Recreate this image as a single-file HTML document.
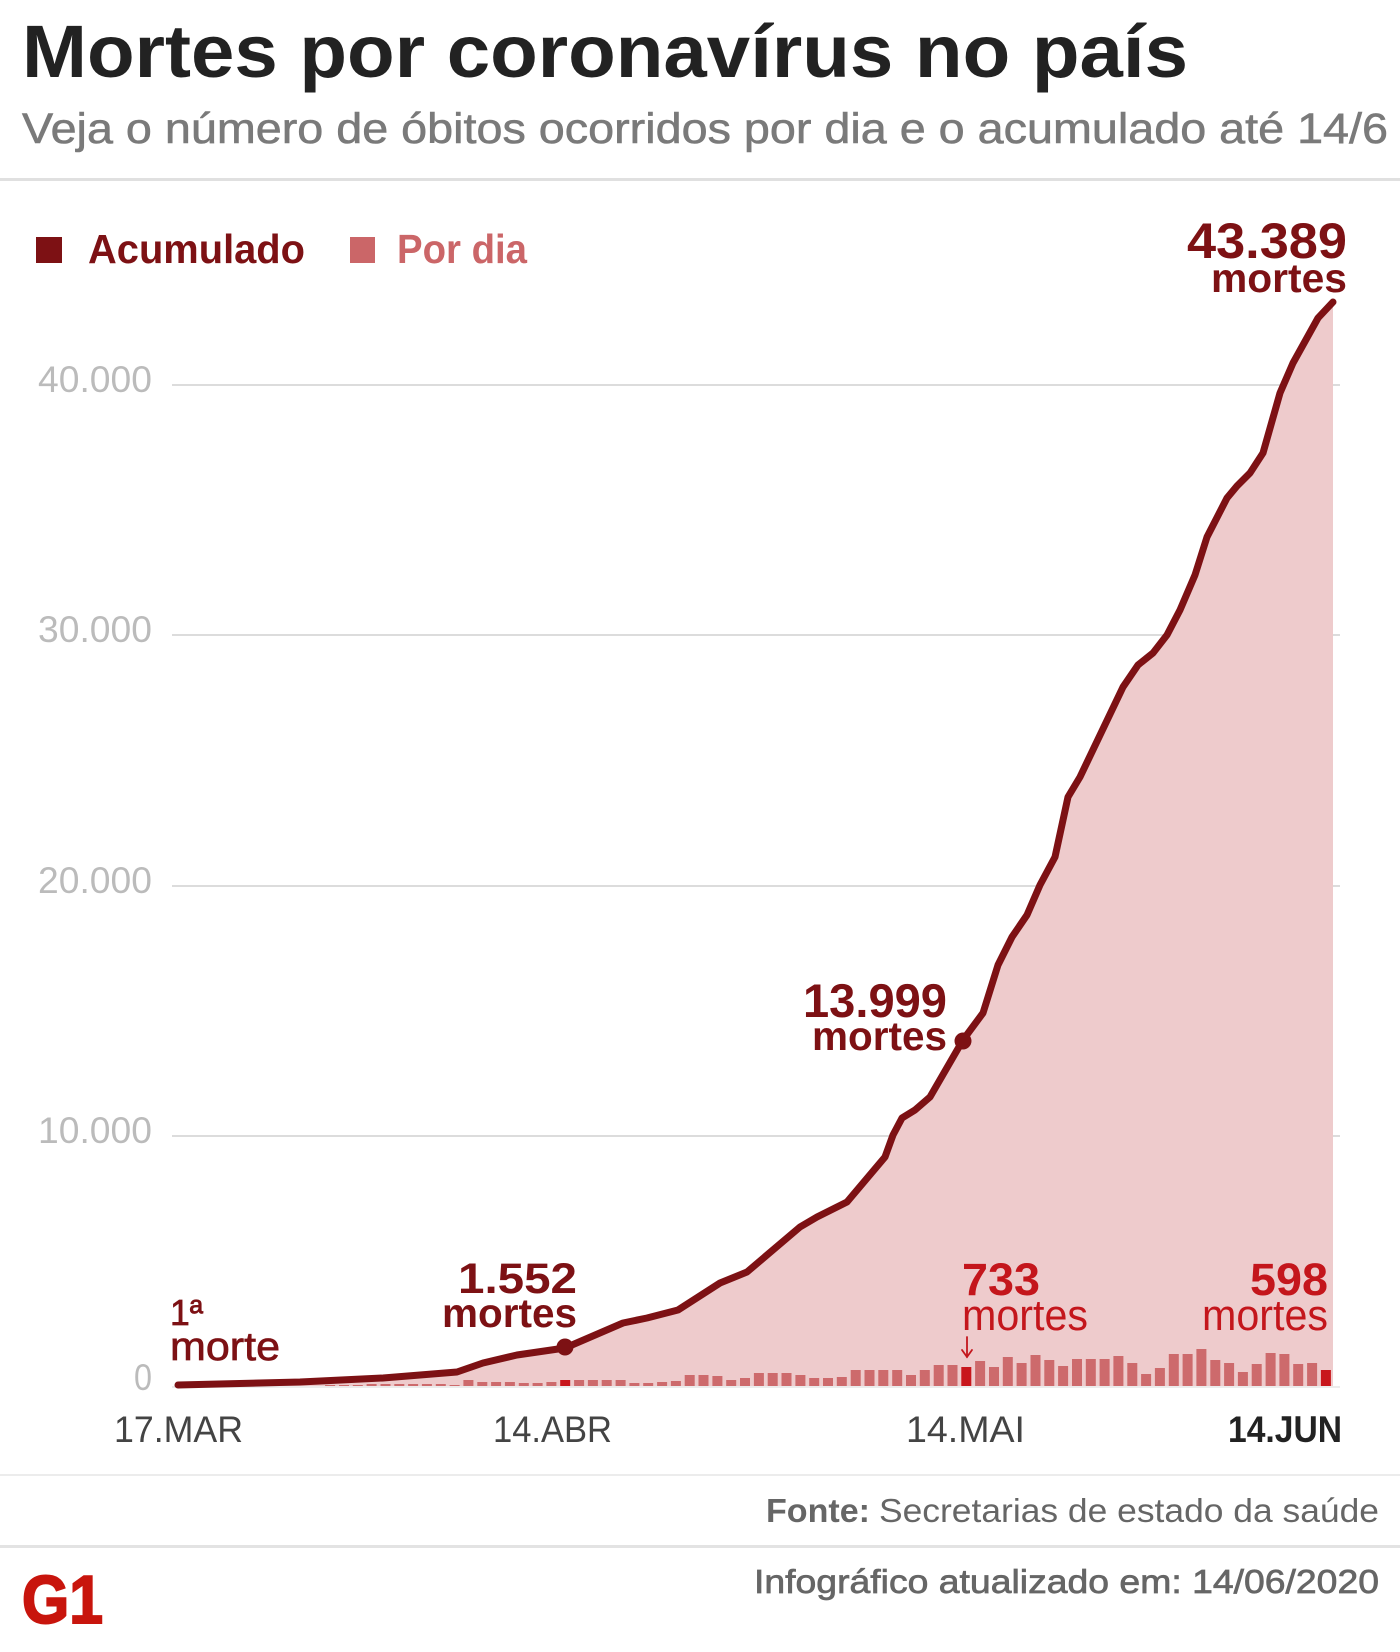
<!DOCTYPE html>
<html><head><meta charset="utf-8"><style>
html,body{margin:0;padding:0;background:#fff;}
svg{display:block;}
text{font-family:"Liberation Sans",Arial,sans-serif;}
</style></head><body>
<svg width="1400" height="1652" viewBox="0 0 1400 1652" xmlns="http://www.w3.org/2000/svg">
<rect x="0" y="0" width="1400" height="1652" fill="#fff"/>
<!-- header -->
<text x="22" y="77" font-size="74" font-weight="bold" fill="#222" textLength="1166" lengthAdjust="spacingAndGlyphs">Mortes por coronavírus no país</text>
<text x="22" y="143" font-size="43" fill="#7a7a7a" stroke="#7a7a7a" stroke-width="0.6" textLength="1366" lengthAdjust="spacingAndGlyphs">Veja o número de óbitos ocorridos por dia e o acumulado até 14/6</text>
<rect x="0" y="178" width="1400" height="3" fill="#e0e0e0"/>

<!-- legend -->
<rect x="36" y="237" width="26" height="26" fill="#7d1114"/>
<text x="88" y="263" font-size="41" font-weight="bold" fill="#7d1114" textLength="217" lengthAdjust="spacingAndGlyphs">Acumulado</text>
<rect x="350" y="237" width="25" height="26" fill="#cb6668"/>
<text x="397" y="263" font-size="41" font-weight="bold" fill="#cb6668" textLength="130" lengthAdjust="spacingAndGlyphs">Por dia</text>

<!-- grid -->
<g stroke="#d0d0d0" stroke-width="1.5">
<line x1="172" y1="385" x2="1340" y2="385"/>
<line x1="172" y1="635" x2="1340" y2="635"/>
<line x1="172" y1="886" x2="1340" y2="886"/>
<line x1="172" y1="1136" x2="1340" y2="1136"/>
</g>
<line x1="172" y1="1387" x2="1340" y2="1387" stroke="#e6e6e6" stroke-width="1.5"/>
<g font-size="37" fill="#bbb">
<text x="38" y="392" textLength="114" lengthAdjust="spacingAndGlyphs">40.000</text>
<text x="38" y="642" textLength="114" lengthAdjust="spacingAndGlyphs">30.000</text>
<text x="38" y="893" textLength="114" lengthAdjust="spacingAndGlyphs">20.000</text>
<text x="38" y="1143" textLength="114" lengthAdjust="spacingAndGlyphs">10.000</text>
<text x="134" y="1390" textLength="18" lengthAdjust="spacingAndGlyphs">0</text>
</g>

<!-- area -->
<polygon fill="#eecbcc" points="178,1386 178,1385 300,1382 383,1378 457,1372 483,1363 517,1355 565,1348 623,1323 647,1318 678,1310 720,1283 747,1272 800,1227 817,1217 847,1202 885,1157 893,1135 902,1118 915,1110 930,1097 963,1040 983,1013 998,965 1012,937 1027,915 1040,885 1055,857 1068,797 1080,777 1123,687 1138,665 1153,653 1167,635 1180,610 1195,575 1207,537 1227,498 1237,486 1250,473 1263,453 1280,393 1293,363 1318,318 1333,302 1333,1386"/>

<!-- bars -->
<g fill="#cd6a6c">
<rect x="325.1" y="1385" width="10" height="1"/>
<rect x="339.0" y="1385" width="10" height="1"/>
<rect x="352.8" y="1385" width="10" height="1"/>
<rect x="366.6" y="1384" width="10" height="2"/>
<rect x="380.5" y="1384" width="10" height="2"/>
<rect x="394.3" y="1384" width="10" height="2"/>
<rect x="408.1" y="1384" width="10" height="2"/>
<rect x="421.9" y="1384" width="10" height="2"/>
<rect x="435.8" y="1384" width="10" height="2"/>
<rect x="449.6" y="1385" width="10" height="1"/>
<rect x="463.4" y="1380" width="10" height="6"/>
<rect x="477.3" y="1382" width="10" height="4"/>
<rect x="491.1" y="1382" width="10" height="4"/>
<rect x="504.9" y="1382" width="10" height="4"/>
<rect x="518.8" y="1383" width="10" height="3"/>
<rect x="532.6" y="1383" width="10" height="3"/>
<rect x="546.4" y="1382" width="10" height="4"/>
<rect x="574.1" y="1380" width="10" height="6"/>
<rect x="587.9" y="1380" width="10" height="6"/>
<rect x="601.7" y="1380" width="10" height="6"/>
<rect x="615.6" y="1380" width="10" height="6"/>
<rect x="629.4" y="1383" width="10" height="3"/>
<rect x="643.2" y="1383" width="10" height="3"/>
<rect x="657.1" y="1382" width="10" height="4"/>
<rect x="670.9" y="1381" width="10" height="5"/>
<rect x="684.7" y="1375" width="10" height="11"/>
<rect x="698.5" y="1375" width="10" height="11"/>
<rect x="712.4" y="1376" width="10" height="10"/>
<rect x="726.2" y="1380" width="10" height="6"/>
<rect x="740.0" y="1378" width="10" height="8"/>
<rect x="753.9" y="1373" width="10" height="13"/>
<rect x="767.7" y="1373" width="10" height="13"/>
<rect x="781.5" y="1373" width="10" height="13"/>
<rect x="795.4" y="1375" width="10" height="11"/>
<rect x="809.2" y="1378" width="10" height="8"/>
<rect x="823.0" y="1378" width="10" height="8"/>
<rect x="836.8" y="1377" width="10" height="9"/>
<rect x="850.7" y="1370" width="10" height="16"/>
<rect x="864.5" y="1370" width="10" height="16"/>
<rect x="878.3" y="1370" width="10" height="16"/>
<rect x="892.2" y="1370" width="10" height="16"/>
<rect x="906.0" y="1375" width="10" height="11"/>
<rect x="919.8" y="1370" width="10" height="16"/>
<rect x="933.7" y="1365" width="10" height="21"/>
<rect x="947.5" y="1365" width="10" height="21"/>
<rect x="975.1" y="1361" width="10" height="25"/>
<rect x="989.0" y="1367" width="10" height="19"/>
<rect x="1002.8" y="1357" width="10" height="29"/>
<rect x="1016.6" y="1363" width="10" height="23"/>
<rect x="1030.5" y="1355" width="10" height="31"/>
<rect x="1044.3" y="1360" width="10" height="26"/>
<rect x="1058.1" y="1366" width="10" height="20"/>
<rect x="1072.0" y="1359" width="10" height="27"/>
<rect x="1085.8" y="1359" width="10" height="27"/>
<rect x="1099.6" y="1359" width="10" height="27"/>
<rect x="1113.4" y="1356" width="10" height="30"/>
<rect x="1127.3" y="1363" width="10" height="23"/>
<rect x="1141.1" y="1374" width="10" height="12"/>
<rect x="1154.9" y="1368" width="10" height="18"/>
<rect x="1168.8" y="1354" width="10" height="32"/>
<rect x="1182.6" y="1354" width="10" height="32"/>
<rect x="1196.4" y="1349" width="10" height="37"/>
<rect x="1210.3" y="1360" width="10" height="26"/>
<rect x="1224.1" y="1363" width="10" height="23"/>
<rect x="1237.9" y="1372" width="10" height="14"/>
<rect x="1251.7" y="1364" width="10" height="22"/>
<rect x="1265.6" y="1353" width="10" height="33"/>
<rect x="1279.4" y="1354" width="10" height="32"/>
<rect x="1293.2" y="1364" width="10" height="22"/>
<rect x="1307.1" y="1363" width="10" height="23"/>
</g>
<g fill="#c8161c">
<rect x="560.2" y="1380" width="10" height="6"/>
<rect x="961.3" y="1367" width="10" height="19"/>
<rect x="1320.9" y="1370" width="10" height="16"/>
</g>

<!-- cumulative line -->
<polyline fill="none" stroke="#7d1114" stroke-width="7" stroke-linejoin="round" stroke-linecap="round" points="178,1385 300,1382 383,1378 457,1372 483,1363 517,1355 565,1348 623,1323 647,1318 678,1310 720,1283 747,1272 800,1227 817,1217 847,1202 885,1157 893,1135 902,1118 915,1110 930,1097 963,1040 983,1013 998,965 1012,937 1027,915 1040,885 1055,857 1068,797 1080,777 1123,687 1138,665 1153,653 1167,635 1180,610 1195,575 1207,537 1227,498 1237,486 1250,473 1263,453 1280,393 1293,363 1318,318 1333,302"/>
<circle cx="565" cy="1347" r="8.5" fill="#7d1114"/>
<circle cx="963" cy="1041" r="8.5" fill="#7d1114"/>

<!-- annotations -->
<text x="1187" y="258" font-size="50" font-weight="bold" fill="#7d1114" textLength="160" lengthAdjust="spacingAndGlyphs">43.389</text>
<text x="1211" y="292" font-size="41" font-weight="bold" fill="#7d1114" textLength="136" lengthAdjust="spacingAndGlyphs">mortes</text>

<text x="803" y="1017" font-size="47" font-weight="bold" fill="#7d1114" textLength="144" lengthAdjust="spacingAndGlyphs">13.999</text>
<text x="812" y="1050" font-size="41" font-weight="bold" fill="#7d1114" textLength="135" lengthAdjust="spacingAndGlyphs">mortes</text>

<text x="458" y="1293" font-size="43" font-weight="bold" fill="#7d1114" textLength="119" lengthAdjust="spacingAndGlyphs">1.552</text>
<text x="442" y="1327" font-size="41" font-weight="bold" fill="#7d1114" textLength="135" lengthAdjust="spacingAndGlyphs">mortes</text>

<text x="170" y="1325" font-size="36" fill="#7d1114" stroke="#7d1114" stroke-width="0.7" textLength="33" lengthAdjust="spacingAndGlyphs">1ª</text>
<text x="170" y="1360" font-size="40" fill="#7d1114" stroke="#7d1114" stroke-width="0.7" textLength="110" lengthAdjust="spacingAndGlyphs">morte</text>

<text x="962" y="1295" font-size="45" font-weight="bold" fill="#c4161c" textLength="78" lengthAdjust="spacingAndGlyphs">733</text>
<text x="962" y="1330" font-size="44" fill="#c4161c" textLength="126" lengthAdjust="spacingAndGlyphs">mortes</text>
<g stroke="#c4161c" stroke-width="1.8" fill="none" stroke-linecap="round">
<line x1="967" y1="1337" x2="967" y2="1357"/>
<polyline points="962,1350 967,1357 972,1350"/>
</g>

<text x="1250" y="1295" font-size="45" font-weight="bold" fill="#c4161c" textLength="78" lengthAdjust="spacingAndGlyphs">598</text>
<text x="1202" y="1330" font-size="44" fill="#c4161c" textLength="126" lengthAdjust="spacingAndGlyphs">mortes</text>

<!-- x axis -->
<g font-size="37" fill="#444">
<text x="114" y="1442" textLength="129" lengthAdjust="spacingAndGlyphs">17.MAR</text>
<text x="493" y="1442" textLength="119" lengthAdjust="spacingAndGlyphs">14.ABR</text>
<text x="906" y="1442" textLength="119" lengthAdjust="spacingAndGlyphs">14.MAI</text>
<text x="1228" y="1442" font-weight="bold" fill="#222" textLength="114" lengthAdjust="spacingAndGlyphs">14.JUN</text>
</g>

<!-- footer -->
<rect x="0" y="1474" width="1400" height="2" fill="#ececec"/>
<text x="766" y="1522" font-size="33" font-weight="bold" fill="#666" textLength="104" lengthAdjust="spacingAndGlyphs">Fonte:</text>
<text x="879" y="1522" font-size="33" fill="#666" textLength="500" lengthAdjust="spacingAndGlyphs">Secretarias de estado da saúde</text>
<rect x="0" y="1545" width="1400" height="3" fill="#e3e3e3"/>
<text x="754" y="1593" font-size="33" fill="#666" stroke="#666" stroke-width="0.7" textLength="625" lengthAdjust="spacingAndGlyphs">Infográfico atualizado em: 14/06/2020</text>
<text x="22" y="1623" font-size="68" font-weight="bold" fill="#c8150d" stroke="#c8150d" stroke-width="2" textLength="81" lengthAdjust="spacingAndGlyphs">G1</text>
</svg>
</body></html>
